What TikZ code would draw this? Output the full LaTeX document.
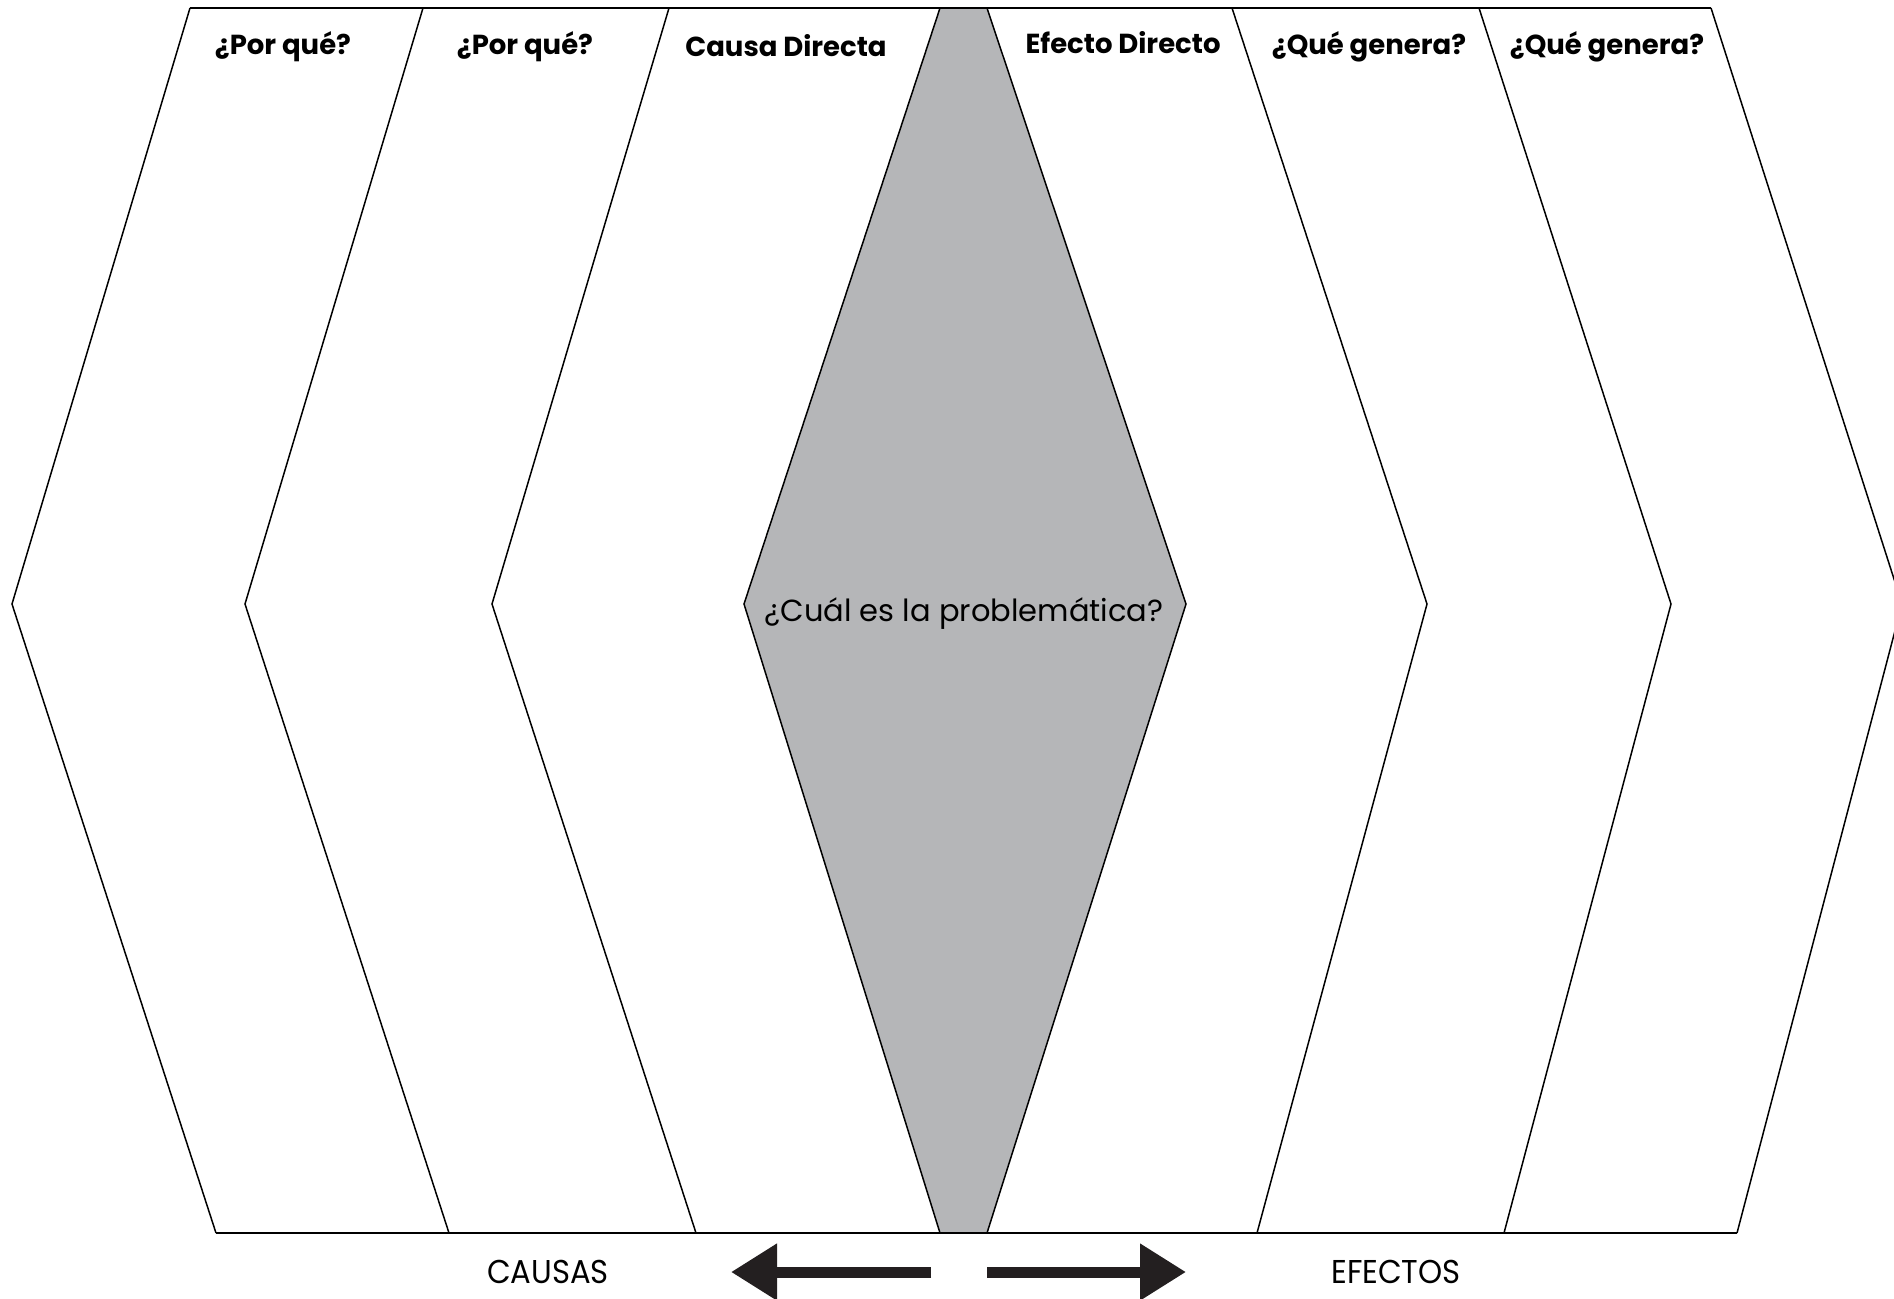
\documentclass[tikz,border=0pt]{standalone}
\usepackage{fontspec}
\setmainfont{Poppins}
\newfontfamily\condfont[FakeStretch=0.93]{Poppins}
\usepackage{tikz}
\usetikzlibrary{arrows.meta}
\usetikzlibrary{positioning}
\definecolor{grisproblema}{RGB}{181,182,184}
\definecolor{negroflecha}{RGB}{35,31,32}

\begin{document}
\begin{tikzpicture}[x=1pt,y=-1pt]
	\clip (0,0) rectangle (1894,1298);
	\fill[white] (0,0) rectangle (1894,1298);

	% problematica
	\filldraw[fill=grisproblema,line width=1.5pt] (940,8) -- (987,8) -- (1186,604) -- (987,1233) -- (940,1233) -- (744,604) -- cycle;

	% causas y efectos
	\begin{scope}[line width=1.5pt]
		\draw (190,8) -- (12,604) -- (216,1233);
		\draw (423,8) -- (245,604) -- (449,1233);
		\draw (669,8) -- (492,604) -- (696,1233);
		\draw (1232,8) -- (1427,604) -- (1257,1233);
		\draw (1479,8) -- (1671,604) -- (1504,1233);
		\draw (1711,8) -- (1902,604) -- (1737,1233);
	\end{scope}
	\draw[line width=2.5pt] (190,8) -- (1711,8);
	\draw[line width=2.5pt] (216,1233) -- (1737,1233);

	\begin{scope}[every node/.style={font=\bfseries\fontsize{27.5}{32}\selectfont}]
		\node (porqueuno) at (283,47) {¿Por qué?};
		\node (porquedos) at (525,47) {¿Por qué?};
		\node (causa) at (786,46) {Causa Directa};
		\node (efecto) at (1123,43) {Efecto Directo};
		\node (generauno) at (1369,47) {¿Qué genera?};
		\node (generados) at (1607,47) {¿Qué genera?};
	\end{scope}

	\node[font=\fontsize{30.5}{36}\selectfont] (problema) at (964,614) {¿Cuál es la problemática?};

	\begin{scope}[every node/.style={font=\condfont\fontsize{33}{38}\selectfont}]
		\node (causas) at (548,1272) {CAUSAS};
		\node (efectos) at (1396,1272) {EFECTOS};
	\end{scope}

	\coordinate (causasinicio) at (931,1272);
	\coordinate (causasfin) at (731,1272);
	\coordinate (efectosinicio) at (987,1272);
	\coordinate (efectosfin) at (1186,1272);

	\begin{scope}[>={Triangle[length=46pt,width=54pt]},line width=11pt,negroflecha]
		\path (causasinicio) edge[->] (causasfin);
		\path (efectosinicio) edge[->] (efectosfin);
	\end{scope}
\end{tikzpicture}
\end{document}
